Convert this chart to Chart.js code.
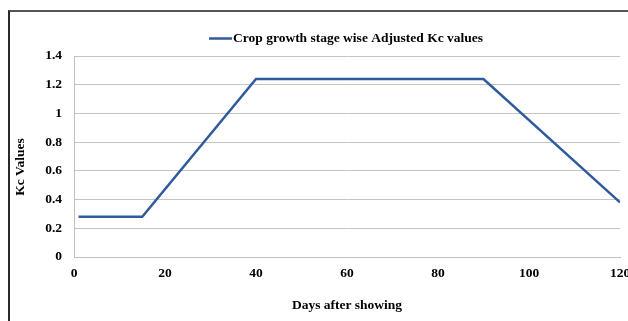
<!DOCTYPE html>
<html>
<head>
<meta charset="utf-8">
<script src="https://cdn.jsdelivr.net/npm/chart.js@4/dist/chart.umd.min.js"></script>
<style>
  html, body { margin: 0; padding: 0; background: #fff; overflow: hidden; }
  #wrap { position: relative; width: 628px; height: 321px; }
  #frame {
    position: absolute; left: 8px; top: 10px; width: 700px; height: 400px;
    border-top: 2px solid #555; border-left: 2px solid #2a2a2a;
  }
  canvas { position: absolute; left: 0; top: 0; }
</style>
</head>
<body>
<div id="wrap">
  <div id="frame"></div>
  <canvas id="kcChart" width="628" height="321"></canvas>
</div>
<script>
const days = [1, 15, 40, 90, 120],
    kcValues = [0.28, 0.28, 1.24, 1.24, 0.38],
    seriesLabel = 'Crop growth stage wise Adjusted Kc values',
    xTitle = 'Days after showing',
    yTitle = 'Kc Values';

const lineColor = '#2f5b9c',
    fontFamily = '"Liberation Serif", "Times New Roman", serif',
    fontSize = 13.5;

// legend entry above the plot and the rotated y title
const extras = {
    id: 'extras',
    afterDraw(chart) {
        const ctx = chart.ctx;
        ctx.save();
        ctx.font = 'bold ' + fontSize + 'px ' + fontFamily;
        ctx.textBaseline = 'middle';
        ctx.strokeStyle = lineColor;
        ctx.lineWidth = 2.5;
        ctx.beginPath();
        ctx.moveTo(209, 38.5);
        ctx.lineTo(232, 38.5);
        ctx.stroke();
        ctx.fillStyle = '#000';
        ctx.textAlign = 'left';
        ctx.fillText(seriesLabel, 233, 39);

        ctx.translate(21, 167);
        ctx.rotate(-Math.PI / 2);
        ctx.textAlign = 'center';
        ctx.fillText(yTitle, 0, 0);
        ctx.restore();
    }
};

new Chart(document.getElementById('kcChart'), {
    type: 'line',
    data: {
        datasets: [{
            label: seriesLabel,
            data: days.map((d, i) => ({ x: d, y: kcValues[i] })),
            borderColor: lineColor,
            borderWidth: 2.5,
            pointRadius: 0,
            fill: false,
            tension: 0
        }]
    },
    options: {
        responsive: false,
        devicePixelRatio: 1,
        animation: false,
        layout: { padding: { top: 56, left: 0, right: 8, bottom: 0 } },
        plugins: {
            legend: { display: false },
            tooltip: { enabled: false }
        },
        scales: {
            x: {
                type: 'linear',
                min: 0,
                max: 120,
                afterFit: s => { s.height = 64; s.paddingRight = 0; s.paddingLeft = 0; },
                grid: { display: false, drawTicks: false },
                border: { display: true, color: '#bfbfbf', width: 1 },
                ticks: {
                    stepSize: 20,
                    padding: 8,
                    color: '#000',
                    maxRotation: 0,
                    font: { family: fontFamily, size: fontSize, weight: 'bold' }
                },
                title: {
                    display: true,
                    text: xTitle,
                    color: '#000',
                    padding: { top: 0, bottom: 7 },
                    font: { family: fontFamily, size: fontSize, weight: 'bold' }
                }
            },
            y: {
                min: 0,
                max: 1.4,
                afterFit: s => { s.width = 74; },
                grid: { color: '#c4c4c4', lineWidth: 1, drawTicks: false },
                border: { display: true, color: '#bfbfbf', width: 1 },
                ticks: {
                    stepSize: 0.2,
                    padding: 12,
                    color: '#000',
                    callback: v => String(+v.toFixed(1)),
                    font: { family: fontFamily, size: fontSize, weight: 'bold' }
                }
            }
        }
    },
    plugins: [extras]
});
</script>
</body>
</html>
